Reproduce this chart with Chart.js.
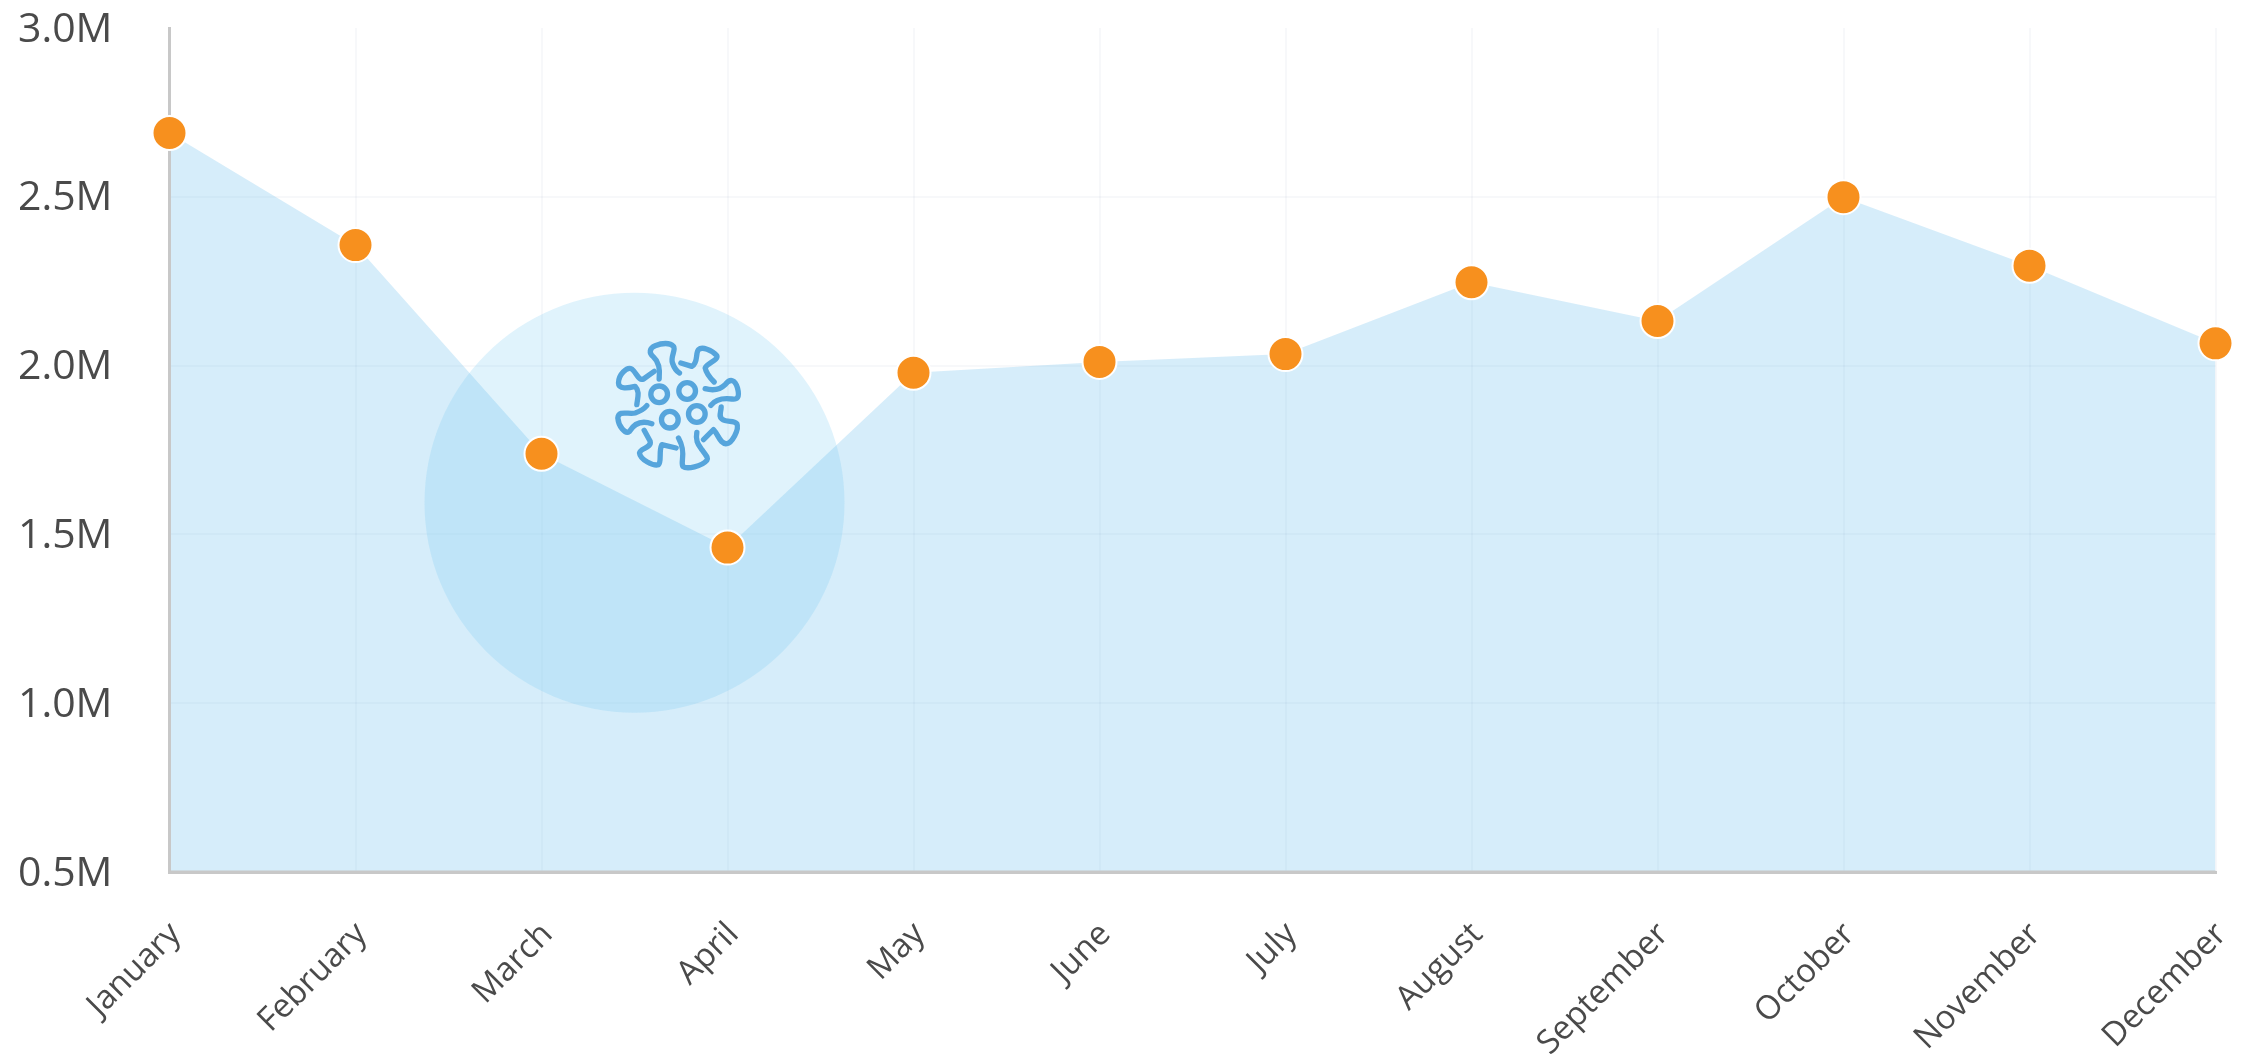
<!DOCTYPE html>
<html lang="en">

<head>
    <meta charset="UTF-8">
    <title>Monthly totals</title>
    <script src="https://cdn.jsdelivr.net/npm/chart.js"></script>
    <style>
        html, body {
            margin: 0;
            background: #fff;
            overflow: hidden;
        }

        canvas {
            display: block;
        }
    </style>
</head>

<body>
    <canvas id="chart" width="2247" height="1056"></canvas>

    <script>
        const months = ['January', 'February', 'March', 'April', 'May', 'June', 'July', 'August', 'September', 'October', 'November', 'December'];
        const totals = [2689000, 2357000, 1739000, 1461000, 1979000, 2011000, 2034000, 2247000, 2132000, 2499000, 2296000, 2066000];
        const covidX = [2.5];
        const covidY = [1594000];

        // virus icon, drawn around its own centre
        const virusSpikes = [
            'M207 178C210 150 205 125 190 112C175 100 178 85 195 78C215 70 240 68 250 80C258 92 240 110 247 130C252 145 260 155 268 160',
            'M272 130L305 140C325 130 315 100 325 90C335 80 365 90 380 108C385 122 350 130 345 145C348 160 360 175 372 187',
            'M345 207C375 215 395 205 405 195C420 175 435 180 442 205C450 235 440 240 425 238C400 235 375 240 362 257',
            'M393 262C392 280 385 290 395 298C410 310 430 300 440 312C448 330 425 370 410 372C390 375 385 345 370 330L340 360',
            'M320 338C315 365 325 375 335 390C350 410 355 415 350 422C335 440 290 450 278 440C270 425 290 400 265 355',
            'M258 385L215 375C205 395 215 425 205 435C190 440 150 420 148 400C150 385 185 385 180 365L162 332',
            'M185 312C150 300 130 315 118 335C105 345 85 320 83 295C85 270 115 285 135 280C150 275 160 270 170 258',
            'M140 255C142 235 150 215 135 200C115 205 85 210 85 190C85 165 110 140 125 148C140 160 145 185 160 178L192 155'
        ];
        const virusRings = [[207, 224], [291, 214], [239, 300], [320, 283]];

        const virusIcon = {
            id: 'virusIcon',
            afterDatasetsDraw(chart) {
                const ctx = chart.ctx;
                const cx = chart.scales.xCircle.getPixelForValue(covidX[0]) + 44;
                const cy = chart.scales.y.getPixelForValue(covidY[0]) - 98;
                ctx.save();
                ctx.translate(cx, cy);
                ctx.scale(1 / 3, 1 / 3);
                ctx.translate(-265, -255);
                ctx.strokeStyle = '#56a5dc';
                ctx.lineWidth = 16;
                ctx.lineCap = 'round';
                ctx.lineJoin = 'round';
                virusSpikes.forEach(d => ctx.stroke(new Path2D(d)));
                virusRings.forEach(r => {
                    ctx.beginPath();
                    ctx.arc(r[0], r[1], 25, 0, Math.PI * 2);
                    ctx.stroke();
                });
                ctx.restore();
            }
        };

        // the grey axis lines sit on top of the area but under the dots
        const axisOverArea = {
            id: 'axisOverArea',
            afterDatasetDraw(chart, args) {
                if (args.index !== 0) return;
                const ctx = chart.ctx;
                const a = chart.chartArea;
                ctx.save();
                ctx.strokeStyle = '#c8c8c8';
                ctx.lineWidth = 3;
                ctx.beginPath();
                ctx.moveTo(a.left, a.top);
                ctx.lineTo(a.left, a.bottom + 1.5);
                ctx.moveTo(a.left - 1.5, a.bottom);
                ctx.lineTo(a.right, a.bottom);
                ctx.stroke();
                ctx.restore();
            }
        };

        new Chart(document.getElementById('chart'), {
            data: {
                labels: months,
                datasets: [{
                    type: 'line',
                    data: totals,
                    order: 3,
                    fill: 'start',
                    backgroundColor: 'rgba(91, 183, 235, 0.25)',
                    borderWidth: 0,
                    pointRadius: 0,
                    tension: 0
                }, {
                    type: 'bubble',
                    xAxisID: 'xCircle',
                    data: covidX.map((x, i) => ({ x: x, y: covidY[i], r: 210 })),
                    order: 2,
                    backgroundColor: 'rgba(100, 195, 240, 0.2)',
                    borderWidth: 0,
                    clip: false
                }, {
                    type: 'line',
                    data: totals,
                    order: 1,
                    showLine: false,
                    clip: false,
                    pointRadius: 17,
                    pointBackgroundColor: '#f7901e',
                    pointBorderColor: '#fff',
                    pointBorderWidth: 2
                }]
            },
            options: {
                responsive: false,
                animation: false,
                events: [],
                // bubble radius would otherwise push the plot inwards
                layout: { autoPadding: false, padding: { top: 28, right: 31.5, left: 0, bottom: 0 } },
                plugins: {
                    legend: { display: false },
                    tooltip: { enabled: false }
                },
                scales: {
                    x: {
                        type: 'category',
                        afterFit(scale) {
                            scale.height = 184;
                            scale.paddingLeft = 0;
                            scale.paddingRight = 0;
                        },
                        grid: { color: 'rgba(40, 80, 120, 0.04)', lineWidth: 2, drawTicks: false },
                        border: { color: '#c8c8c8', width: 3 },
                        ticks: {
                            color: '#4a4a4a',
                            font: { family: '"Open Sans"', size: 33 },
                            maxRotation: 45,
                            minRotation: 45,
                            autoSkip: false,
                            padding: 43,
                            labelOffset: 6
                        }
                    },
                    xCircle: {
                        type: 'linear',
                        display: false,
                        min: 0,
                        max: 11
                    },
                    y: {
                        min: 500000,
                        max: 3000000,
                        afterFit(scale) {
                            scale.width = 169.5;
                            scale.paddingTop = 0;
                            scale.paddingBottom = 0;
                        },
                        grid: {
                            color: ctx => ctx.tick.value === 3000000 ? 'transparent' : 'rgba(40, 80, 120, 0.04)',
                            lineWidth: 2,
                            drawTicks: false
                        },
                        border: { color: '#c8c8c8', width: 3 },
                        ticks: {
                            stepSize: 500000,
                            color: '#4a4a4a',
                            padding: 57,
                            labelOffset: 2,
                            font: { family: '"Open Sans"', size: 41 },
                            callback: v => (v / 1000000).toFixed(1) + 'M'
                        }
                    }
                }
            },
            plugins: [virusIcon, axisOverArea]
        });
    </script>
</body>

</html>
